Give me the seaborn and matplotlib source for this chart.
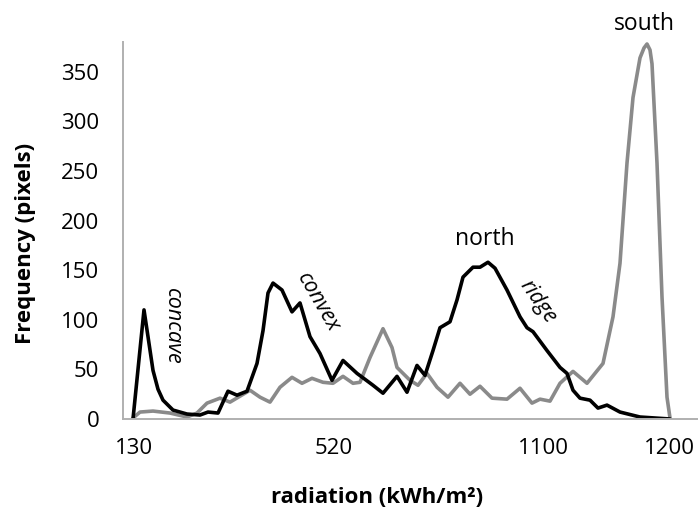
import matplotlib
matplotlib.use("Agg")
import matplotlib.pyplot as plt
import seaborn as sns
import pandas as pd
from matplotlib.ticker import FixedLocator

# x positions are bin positions along the categorical radiation axis
black_x = [10, 21, 25, 30, 35, 40, 50, 64, 77, 85, 95, 105, 114, 124, 134, 140, 145, 150, 159,
           169, 177, 187, 197, 209, 220, 234, 250, 260, 274, 284, 294, 302, 310, 317, 327, 334,
           340, 350, 357, 365, 372, 384, 397, 404, 410, 424, 437, 444, 450, 457, 467, 475, 484,
           497, 517, 547]
black_y = [0, 110, 83, 49, 30, 19, 9, 5, 4, 7, 6, 28, 24, 28, 56, 89, 127, 137, 130,
           108, 117, 83, 66, 39, 59, 46, 34, 26, 43, 27, 54, 44, 69, 92, 98, 120,
           143, 153, 153, 158, 152, 130, 103, 92, 88, 69, 52, 46, 29, 21, 19, 11, 14,
           7, 2, 0]

gray_x = [10, 17, 30, 47, 64, 74, 84, 97, 107, 117, 127, 137, 147, 157, 169, 179, 189, 200,
          210, 220, 230, 237, 247, 260, 269, 274, 280, 287, 295, 304, 314, 325, 337, 347, 357,
          369, 384, 397, 409, 417, 427, 437, 450, 464, 480, 490, 497, 504, 510, 517, 521, 524,
          527, 529, 534, 539, 544, 547]
gray_y = [1, 7, 8, 6, 2, 6, 16, 21, 17, 23, 29, 22, 17, 32, 42, 36, 41, 37,
          36, 43, 36, 37, 62, 91, 72, 52, 46, 39, 34, 46, 32, 22, 36, 25, 33,
          21, 20, 31, 16, 20, 18, 36, 48, 36, 56, 103, 157, 258, 324, 364, 374, 378,
          372, 358, 258, 123, 22, 1]

tick_label_pos = [11, 211, 420, 546]
tick_labels = ["130", "520", "1100", "1200"]
tick_marks = [0, 210, 420]
y_ticks = [0, 50, 100, 150, 200, 250, 300, 350]

df = pd.concat([
    pd.DataFrame({"x": black_x, "y": black_y, "series": "black"}),
    pd.DataFrame({"x": gray_x, "y": gray_y, "series": "gray"}),
])

sns.set_style("white")
plt.rcParams["font.family"] = ["Open Sans", "DejaVu Sans"]
plt.rcParams["text.color"] = "black"

fig = plt.figure(figsize=(6.98, 5.11), dpi=100)
ax = fig.add_axes([123 / 698, 92 / 511, 574 / 698, 377 / 511])

sns.lineplot(data=df, x="x", y="y", hue="series", sort=False,
             palette={"black": "#000000", "gray": "#8a8a8a"},
             hue_order=["gray", "black"], linewidth=2.6, legend=False, ax=ax)

ax.set_xlim(0, 574)
ax.set_ylim(0, 380)
ax.set_yticks(y_ticks)
ax.set_xticks(tick_label_pos)
ax.set_xticklabels(tick_labels)
ax.xaxis.set_minor_locator(FixedLocator(tick_marks))
ax.tick_params(axis="x", which="major", length=0, labelsize=16, pad=14, labelcolor="black")
ax.tick_params(axis="x", which="minor", length=7, width=1.2, color="#b0b0b0", direction="out")
ax.tick_params(axis="y", length=6, width=1.2, color="#b0b0b0", direction="out",
               labelsize=16, pad=11, labelcolor="black")
for s in ["top", "right"]:
    ax.spines[s].set_visible(False)
for s in ["left", "bottom"]:
    ax.spines[s].set_color("#b0b0b0")
    ax.spines[s].set_linewidth(1.4)

ax.set_xlabel("")
ax.set_ylabel("")
fig.text(377 / 698, 1 - 497 / 511, "radiation (kWh/m²)", fontsize=16, fontweight="bold",
         ha="center", va="center")
fig.text(26 / 698, 1 - 243 / 511, "Frequency (pixels)", fontsize=16, fontweight="bold",
         rotation=90, ha="center", va="center")

ax.text(521, 398, "south", fontsize=16.5, ha="center", va="center")
ax.text(362, 181, "north", fontsize=16.5, ha="center", va="center")
ax.text(49, 93, "concave", fontsize=15.5, style="italic", rotation=-90, ha="center", va="center")
ax.text(195, 117, "convex", fontsize=15.5, style="italic", rotation=-60, ha="center", va="center")
ax.text(415, 118, "ridge", fontsize=15.5, style="italic", rotation=-55, ha="center", va="center")

fig.savefig("out.png", dpi=100)
